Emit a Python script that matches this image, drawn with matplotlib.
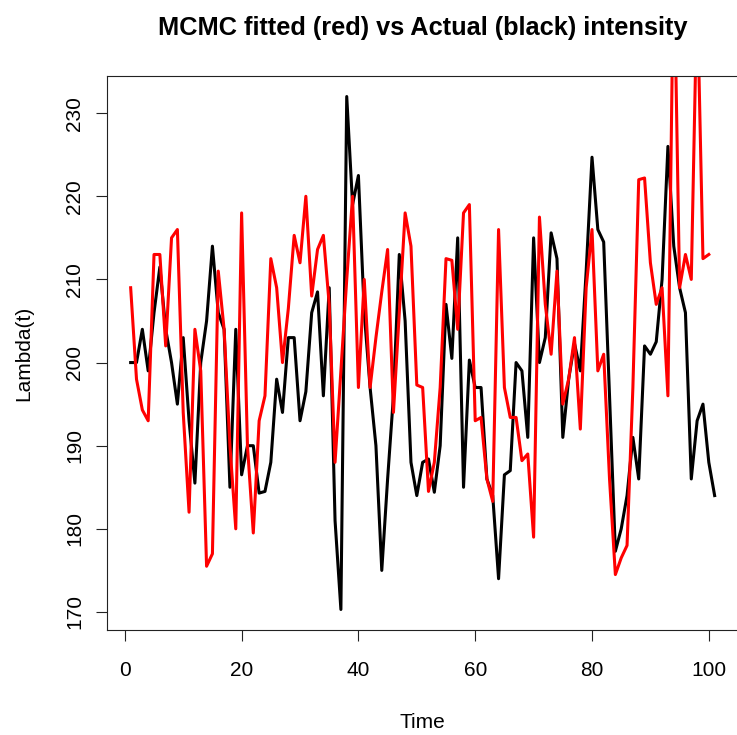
import numpy as np
import matplotlib
matplotlib.use("Agg")
import matplotlib.pyplot as plt

# actual intensity (black), t = 1..101
actual = [200, 200, 204, 199, 206, 211.5, 204, 200, 195, 203,
          193, 185.5, 200, 205, 214, 206, 204, 185, 204, 186.5,
          190, 190, 184.3, 184.5, 188, 198, 194, 203, 203, 193,
          196.5, 206, 208.5, 196, 209, 181, 170.3, 232, 219, 222.5,
          206, 197, 190, 175, 186, 196, 213, 205, 188, 184,
          188, 188.4, 184.4, 190, 207, 200.5, 215, 185, 200.3, 197,
          197, 186, 184, 174, 186.5, 187, 200, 199, 191, 215,
          200, 203, 215.6, 212.5, 191, 198, 202.3, 199, 211, 224.7,
          216, 214.5, 196, 177.3, 180, 184, 191, 186, 202, 201,
          202.5, 210, 226, 214, 209, 206, 186, 193, 195, 188,
          184]

# MCMC fitted intensity (red), t = 1..100
fitted = [209, 198, 194.3, 193, 213, 213, 202, 215, 216, 194,
          182, 204, 199, 175.5, 177, 211, 204, 190, 180, 218,
          190, 179.5, 193, 196, 212.5, 209, 200, 206.5, 215.3, 212,
          220, 208, 213.6, 215.3, 207, 188, 199, 210, 220, 197,
          210, 197, 203, 208.5, 213.6, 194, 206, 218, 214, 197.3,
          197, 184.5, 188, 197, 212.5, 212.3, 204, 218, 219, 193,
          193.4, 186, 183.3, 216, 197, 193.4, 193.4, 188.2, 189, 179,
          217.5, 207, 201, 211, 195, 198, 203, 192, 209, 216,
          199, 201, 186, 174.5, 176.5, 178, 197, 222, 222.2, 212,
          207, 209, 196, 250, 209, 213, 210, 245, 212.5, 213]

x_ticks = [0, 20, 40, 60, 80, 100]
y_ticks = [170, 180, 190, 200, 210, 220, 230]
title = "MCMC fitted (red) vs Actual (black) intensity"


def main():
    plt.rcParams["font.family"] = ["Liberation Sans", "DejaVu Sans"]
    W, H = 737, 735
    fig = plt.figure(figsize=(W / 100, H / 100), dpi=100)
    ax = fig.add_axes([107.3 / W, 1 - 630 / H, (738 - 107.3) / W, (630 - 76) / H])

    t_act = np.arange(1, len(actual) + 1)
    t_fit = np.arange(1, len(fitted) + 1)
    ax.plot(t_act, actual, color="black", lw=2.2)
    ax.plot(t_fit, fitted, color="red", lw=2.2)

    # R style limits: data range of plot() call + 4%
    lo, hi = min(actual), max(actual)
    ax.set_ylim(lo - 0.04 * (hi - lo), hi + 0.04 * (hi - lo))
    ax.set_xlim(t_act[0] - 0.04 * (t_act[-1] - t_act[0]), t_act[-1] + 0.04 * (t_act[-1] - t_act[0]))

    ax.set_xticks(x_ticks)
    ax.set_yticks(y_ticks)
    ax.tick_params(direction="out", length=8, width=0.8, labelsize=15, color="#222222")
    ax.tick_params(axis="x", pad=14)
    ax.tick_params(axis="y", pad=8.5, labelrotation=90)
    for lab in ax.get_yticklabels():
        lab.set_va("center")
    for s in ax.spines.values():
        s.set_linewidth(0.8)
        s.set_color("#222222")

    fig.text(422.6 / W, 1 - 35 / H, title, ha="center", va="baseline",
             fontsize=18.3, fontweight="bold")
    fig.text(422.6 / W, 1 - 728 / H, "Time", ha="center", va="baseline", fontsize=15)
    fig.text(29 / W, 1 - 353 / H, "Lambda(t)", ha="center", va="baseline", fontsize=15,
             rotation=90, rotation_mode="anchor")

    fig.savefig("out.png", dpi=100)


if __name__ == "__main__":
    main()
